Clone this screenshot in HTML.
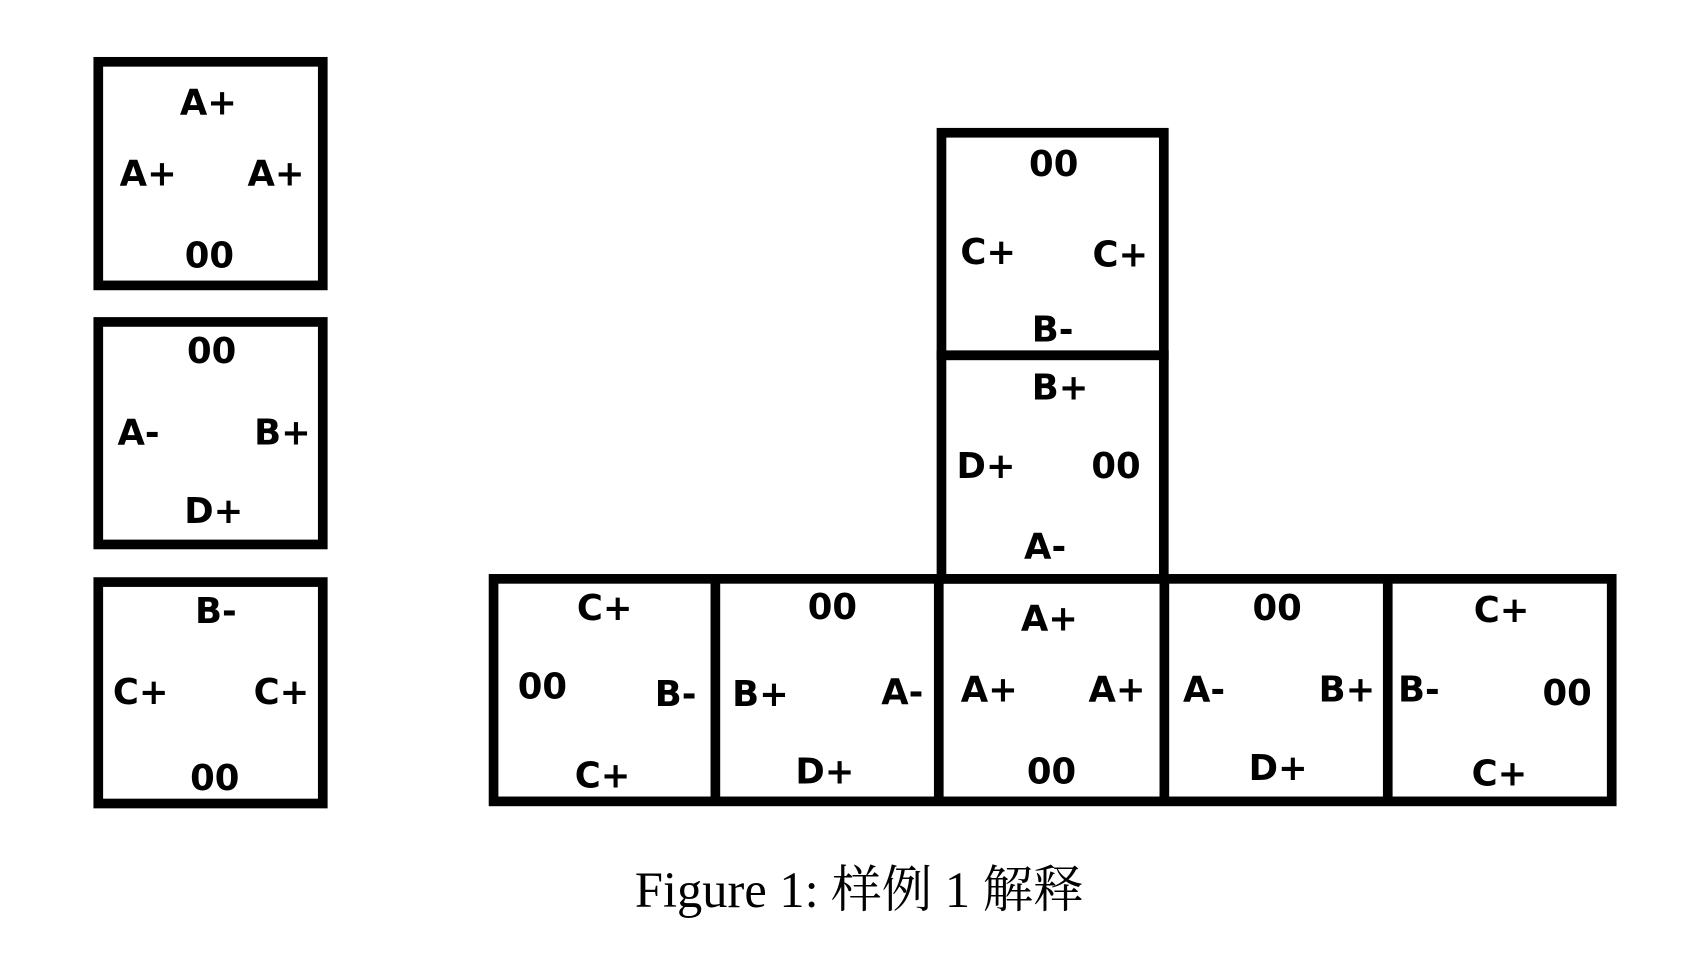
<!DOCTYPE html>
<html><head><meta charset="utf-8"><style>
html,body{margin:0;padding:0;background:#fff;}
svg{display:block}
</style></head><body>
<svg width="1681" height="961" viewBox="0 0 1565 894" preserveAspectRatio="none" xmlns="http://www.w3.org/2000/svg">
<g fill="none" stroke="#000" stroke-width="9">
<rect x="91.5" y="57.5" width="209" height="208"/>
<rect x="91.5" y="299.5" width="209" height="207"/>
<rect x="91.5" y="541.5" width="209" height="206"/>
<rect x="876.5" y="123.5" width="207" height="207"/>
<rect x="876.5" y="330.5" width="207" height="208"/>
<rect x="459.5" y="538.5" width="1041" height="207"/>
<line x1="666" y1="538" x2="666" y2="746"/>
<line x1="874" y1="538" x2="874" y2="746"/>
<line x1="1084" y1="538" x2="1084" y2="746"/>
<line x1="1292" y1="538" x2="1292" y2="746"/>
</g>
<g font-family="'DejaVu Sans','Liberation Sans',sans-serif" font-size="33" font-weight="bold" text-anchor="middle" dominant-baseline="central" fill="#000">
<text x="194" y="96">A+</text><text x="138" y="162">A+</text><text x="257" y="162">A+</text><text x="195" y="238">00</text>
<text x="197" y="327">00</text><text x="129" y="403">A-</text><text x="263" y="403">B+</text><text x="199" y="476">D+</text>
<text x="201" y="569">B-</text><text x="131" y="644">C+</text><text x="262" y="644">C+</text><text x="200" y="724">00</text>
<text x="981" y="153">00</text><text x="920" y="235">C+</text><text x="1043" y="237">C+</text><text x="980" y="307">B-</text>
<text x="987" y="361">B+</text><text x="918" y="434">D+</text><text x="1039" y="434">00</text><text x="973" y="509">A-</text>
<text x="563" y="566">C+</text><text x="505" y="639">00</text><text x="629" y="646">B-</text><text x="561" y="722">C+</text>
<text x="775" y="565">00</text><text x="708" y="646">B+</text><text x="840" y="644">A-</text><text x="768" y="718">D+</text>
<text x="977" y="576">A+</text><text x="921" y="642">A+</text><text x="1040" y="642">A+</text><text x="979" y="718">00</text>
<text x="1189" y="566">00</text><text x="1121" y="642">A-</text><text x="1254" y="642">B+</text><text x="1190" y="715">D+</text>
<text x="1398" y="568">C+</text><text x="1321" y="642">B-</text><text x="1459" y="645">00</text><text x="1396" y="720">C+</text>
</g>
<text x="800" y="828" font-family="'Liberation Serif','Noto Serif CJK SC',serif" font-size="47" text-anchor="middle" dominant-baseline="central" fill="#000">Figure 1: 样例 1 解释</text>
</svg>
</body></html>
